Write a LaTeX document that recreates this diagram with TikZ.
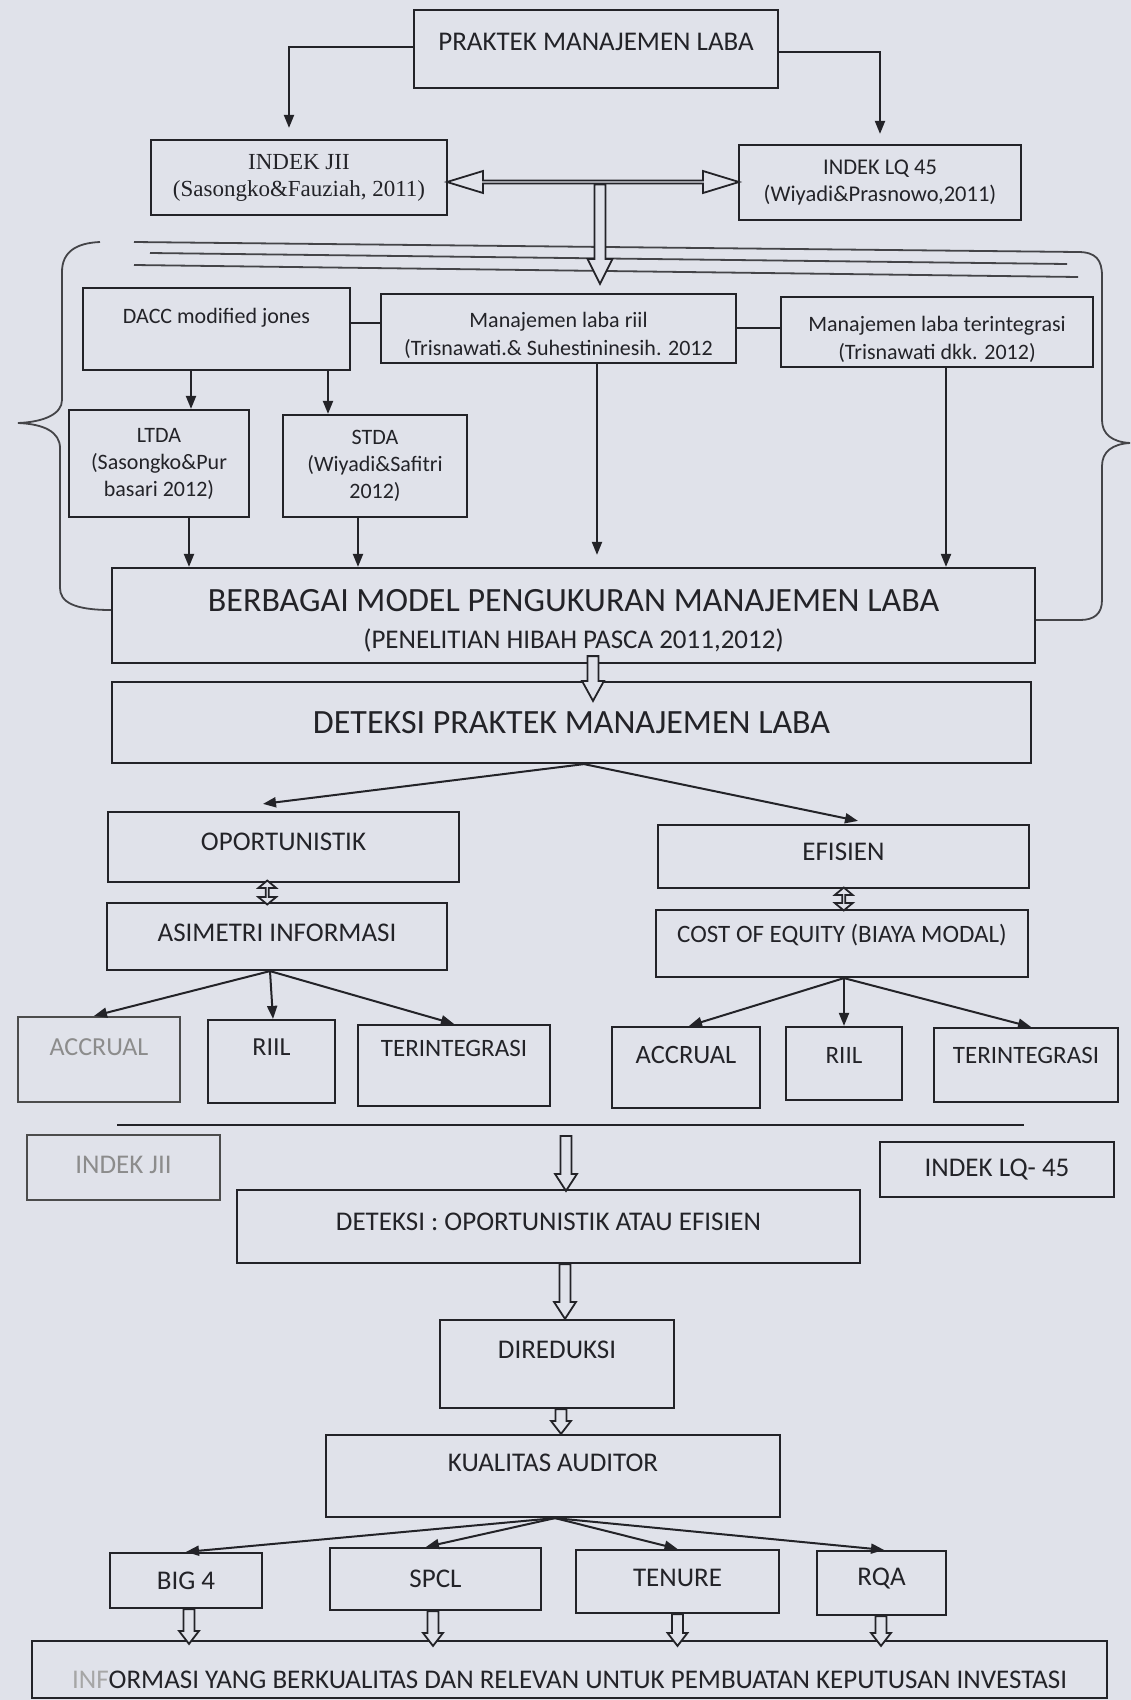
\documentclass[tikz,border=0pt]{standalone}
\usepackage{fontspec}
\setmainfont{Carlito}
\newfontfamily\timesf{Liberation Serif}
\usetikzlibrary{arrows.meta,shapes.arrows,calc}
\definecolor{paper}{RGB}{224,226,234}
\definecolor{ink}{RGB}{35,35,40}
\newcommand{\fsz}[2]{\fontsize{#1}{#2}\selectfont}
\newcommand{\hollowdown}[4]{%
  \draw[hol] let \p1=#1, \p2=#2 in
    (\x1-5.5pt,\y1) -- (\x1-5.5pt,\y2+#3) -- (\x1-#4,\y2+#3) -- (\x1,\y2)
    -- (\x1+#4,\y2+#3) -- (\x1+5.5pt,\y2+#3) -- (\x1+5.5pt,\y1) -- cycle;}
\begin{document}
\begin{tikzpicture}[x=1pt,y=-1pt,
  bx/.style={draw=ink,line width=2.2pt,rectangle,inner sep=0pt,align=center,text=ink},
  arr/.style={draw=ink,line width=2pt,-{Triangle[length=13pt,width=10pt]}},
  ln/.style={draw=ink,line width=2pt},
  brc/.style={draw=ink!85,line width=1.8pt},
  hol/.style={draw=ink,line width=1.8pt,fill=paper,line join=miter},
  faded/.style={draw=black!70,text=black!45}
]
\fill[paper] (0,0) rectangle (1131,1700);
\useasboundingbox (0,0) rectangle (1131,1700);

% ---------- top ----------
\node[bx,minimum width=364,minimum height=78,text depth=14pt,font={\fsz{27}{32}}] (praktek) at (596,49) {PRAKTEK MANAJEMEN LABA};
\node[bx,minimum width=296,minimum height=75,font={\timesf\fsz{23}{27}}] (jii1) at (299,177.5) {INDEK JII\\(Sasongko\&Fauziah, 2011)};
\node[bx,minimum width=282,minimum height=75,font={\fsz{22.5}{27}}] (lq1) at (880,182.5) {INDEK LQ 45\\(Wiyadi\&Prasnowo,2011)};

\draw[arr,shorten >=11pt] ([yshift=2]praktek.west) -| ([xshift=-10]jii1.north);
\draw[arr,shorten >=10pt] ([yshift=-3]praktek.east) -| (lq1.north);

% three lines and braces
\coordinate (l1a) at (134,242); \coordinate (l1b) at (1078,252);
\coordinate (l2a) at (150,253); \coordinate (l2b) at (1067,264);
\coordinate (l3a) at (134,265); \coordinate (l3b) at (1078,277);
\draw[brc] (l2a) -- (l2b);
\draw[brc] (l3a) -- (l3b);

% models row
\node[bx,minimum width=267,minimum height=82,text depth=26pt,font={\fsz{22}{27}}] (dacc) at (216.5,329) {DACC modified jones};
\node[bx,minimum width=355,minimum height=69,text height=58pt,text depth=5pt,font={\fsz{22}{28}}] (riil) at (558.5,328.5) {Manajemen laba riil\\(Trisnawati.\& Suhestininesih. 2012};
\node[bx,minimum width=312,minimum height=70,text height=59pt,text depth=5pt,font={\fsz{22}{28}}] (terint) at (937,332) {Manajemen laba terintegrasi\\(Trisnawati dkk. 2012)};
\node[bx,minimum width=180,minimum height=107,font={\fsz{22}{27}}] (ltda) at (159,463.5) {LTDA\\(Sasongko\&Pur\\basari 2012)};
\node[bx,minimum width=184,minimum height=102,font={\fsz{22}{27}}] (stda) at (375,466) {STDA\\(Wiyadi\&Safitri\\2012)};
\node[bx,minimum width=923,minimum height=95,text height=73pt,text depth=7pt,font={\fsz{27}{37}}] (berbagai) at (573.5,615.5) {{\fsz{34}{37}BERBAGAI MODEL PENGUKURAN MANAJEMEN LABA}\\(PENELITIAN HIBAH PASCA 2011,2012)};

\draw[brc] (100,242) .. controls (76,243) and (62,252) .. (62,272) -- (62,400)
  .. controls (62,414) and (44,422) .. (18,423) .. controls (44,424) and (60,432) .. (60,448)
  -- (60,588) .. controls (60,602) and (74,610) .. ([yshift=5.5]berbagai.west);
\draw[brc] (l1a) -- (l1b) .. controls (1096,252) and (1102,260) .. (1102,276) -- (1102,420)
  .. controls (1102,434) and (1112,442) .. (1130,443) .. controls (1112,444) and (1102,452) .. (1102,466)
  -- (1102,600) .. controls (1102,614) and (1094,620) .. (1080,620) -- ([yshift=-4.5]berbagai.east);

\node[hol,double arrow,minimum height=292,minimum width=22,double arrow head extend=5.5,double arrow tip angle=34,inner sep=0pt] (dblA) at ($(jii1.east)!0.5!(lq1.west)+(0,2)$) {};
\hollowdown{([xshift=7]dblA.south)}{([yshift=9]riil.north)}{25pt}{12.5pt}

\draw[ln] ([yshift=6]dacc.east) -- ([yshift=6]dacc.east -| riil.west);
\draw[ln] ([yshift=1]riil.east) -- ([yshift=1]riil.east -| terint.west);
\draw[arr] ([xshift=-25.5]dacc.south) -- ([xshift=-25.5]dacc.south |- ltda.north);
\draw[arr] ([xshift=111.5]dacc.south) -- ([xshift=111.5]dacc.south |- stda.north);
\draw[arr] ([xshift=30]ltda.south) -- ([xshift=30]ltda.south |- berbagai.north);
\draw[arr] ([xshift=-17]stda.south) -- ([xshift=-17]stda.south |- berbagai.north);
\draw[arr,shorten >=12pt] ([xshift=38.5]riil.south) -- ([xshift=38.5]riil.south |- berbagai.north);
\draw[arr] ([xshift=9]terint.south) -- ([xshift=9]terint.south |- berbagai.north);

% ---------- detection ----------
\node[bx,minimum width=919,minimum height=81,font={\fsz{34}{40}}] (deteksi1) at (571.5,722.5) {DETEKSI PRAKTEK MANAJEMEN LABA};
\hollowdown{([xshift=19.5,yshift=8]berbagai.south)}{([yshift=-20]deteksi1.north)}{20pt}{11pt}

\node[bx,minimum width=351,minimum height=70,text depth=10pt,font={\fsz{27}{32}}] (oport) at (283.5,847) {OPORTUNISTIK};
\node[bx,minimum width=371,minimum height=63,text depth=9pt,font={\fsz{27}{32}}] (efisien) at (843.5,856.5) {EFISIEN};
\node[bx,minimum width=340,minimum height=67,text depth=7pt,font={\fsz{27}{32}}] (asim) at (277,936.5) {ASIMETRI INFORMASI};
\node[bx,minimum width=372,minimum height=67,text depth=20pt,font={\fsz{25}{30}}] (cost) at (842,943.5) {COST OF EQUITY (BIAYA MODAL)};

\draw[arr] ([xshift=12.5]deteksi1.south) -- ([xshift=-20.5,yshift=7]oport.north);
\draw[arr] ([xshift=12.5]deteksi1.south) -- ([xshift=14.5,yshift=3]efisien.north);

\node[hol,double arrow,rotate=90,minimum height=24,minimum width=18,double arrow head extend=4.5,double arrow tip angle=100,inner sep=0pt] (dA1) at ($(oport.south)!0.5!(asim.north)+(-13,0)$) {};
\node[hol,double arrow,rotate=90,minimum height=23,minimum width=18,double arrow head extend=4.5,double arrow tip angle=100,inner sep=0pt] (dA2) at ($(efisien.south)!0.5!(cost.north)+(1,0)$) {};

\node[bx,faded,minimum width=162,minimum height=85,text depth=25pt,font={\fsz{26}{30}}] (acc1) at (99,1059.5) {ACCRUAL};
\node[bx,minimum width=127,minimum height=83,text depth=29pt,font={\fsz{26}{30}}] (riil1) at (271.5,1061.5) {RIIL};
\node[bx,minimum width=192,minimum height=81,text depth=35pt,font={\fsz{25}{30}}] (ter1) at (454,1065.5) {TERINTEGRASI};
\node[bx,minimum width=148,minimum height=81,text depth=25pt,font={\fsz{26.5}{30}}] (acc2) at (686,1067.5) {ACCRUAL};
\node[bx,minimum width=116,minimum height=73,text depth=17pt,font={\fsz{25}{30}}] (riil2) at (844,1063.5) {RIIL};
\node[bx,minimum width=184,minimum height=74,text depth=20pt,font={\fsz{25}{30}}] (ter2) at (1026,1065) {TERINTEGRASI};

\draw[arr] ([xshift=-7]asim.south) -- ([xshift=-5]acc1.north);
\draw[arr] ([xshift=-7]asim.south) -- ([xshift=1.5]riil1.north);
\draw[arr] ([xshift=-7]asim.south) -- (ter1.north);
\draw[arr] ([xshift=2]cost.south) -- ([xshift=3]acc2.north);
\draw[arr] ([xshift=2]cost.south) -- (riil2.north);
\draw[arr] ([xshift=2]cost.south) -- ([xshift=5]ter2.north);

% ---------- lower part ----------
\coordinate (hlA) at (117,1125); \coordinate (hlB) at (1024,1125);
\draw[ln] (hlA) -- (hlB);
\node[bx,faded,minimum width=193,minimum height=65,text depth=5pt,font={\fsz{27}{32}}] (jii2) at (123.5,1167.5) {INDEK JII};
\node[bx,minimum width=234,minimum height=55,font={\fsz{27}{32}}] (lq2) at (997,1169.5) {INDEK LQ- 45};
\node[bx,minimum width=623,minimum height=73,text depth=9pt,font={\fsz{27}{32}}] (deteksi2) at (548.5,1226.5) {DETEKSI : OPORTUNISTIK ATAU EFISIEN};
\coordinate (h3top) at (566,1136);
\hollowdown{(h3top)}{([yshift=-2]deteksi2.north)}{17pt}{11pt}

\node[bx,minimum width=234,minimum height=88,text depth=28pt,font={\fsz{27}{32}}] (direduksi) at (557,1364) {DIREDUKSI};
\hollowdown{([xshift=16.5]deteksi2.south)}{(direduksi.north)}{17pt}{11pt}

\node[bx,minimum width=454,minimum height=82,text depth=26pt,font={\fsz{27}{32}}] (kualitas) at (553,1476) {KUALITAS AUDITOR};
\hollowdown{([xshift=4]direduksi.south)}{(kualitas.north)}{13pt}{10pt}

\node[bx,minimum width=152,minimum height=55,font={\fsz{27}{32}}] (big4) at (186,1580.5) {BIG 4};
\node[bx,minimum width=211,minimum height=62,font={\fsz{27}{32}}] (spcl) at (435.5,1579) {SPCL};
\node[bx,minimum width=203,minimum height=63,text depth=7pt,font={\fsz{27}{32}}] (tenure) at (677.5,1581.5) {TENURE};
\node[bx,minimum width=129,minimum height=64,text depth=12pt,font={\fsz{27}{32}}] (rqa) at (881.5,1583) {RQA};

\draw[arr] ([xshift=2]kualitas.south) -- (big4.north);
\draw[arr] ([xshift=2]kualitas.south) -- ([xshift=-9.5]spcl.north);
\draw[arr] ([xshift=2]kualitas.south) -- (tenure.north);
\draw[arr] ([xshift=2]kualitas.south) -- ([xshift=2.5]rqa.north);

\node[bx,minimum width=1075,minimum height=57,text height=38pt,font={\fsz{27}{32}}] (info) at (569.5,1669.5) {{\color{black!35}INF}ORMASI YANG BERKUALITAS DAN RELEVAN UNTUK PEMBUATAN KEPUTUSAN INVESTASI};

\hollowdown{([xshift=3]big4.south)}{([yshift=-4]info.north)}{13pt}{10pt}
\hollowdown{([xshift=-2.5]spcl.south)}{([yshift=-6]info.north)}{13pt}{10pt}
\hollowdown{(tenure.south)}{([yshift=-6]info.north)}{13pt}{10pt}
\hollowdown{([xshift=-0.5]rqa.south)}{([yshift=-6]info.north)}{13pt}{10pt}
\end{tikzpicture}
\end{document}
